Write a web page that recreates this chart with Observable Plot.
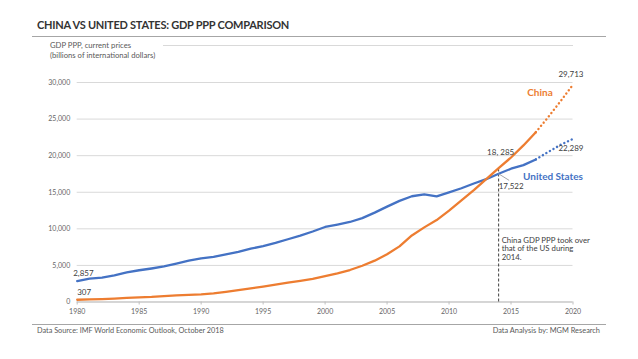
<!DOCTYPE html>
<html>
<head>
<meta charset="utf-8">
<script src="https://cdn.jsdelivr.net/npm/d3@7"></script>
<script src="https://cdn.jsdelivr.net/npm/@observablehq/plot@0.6"></script>
<style>
  body { margin: 0; background: #fff; font-family: Lato, "Open Sans", sans-serif; }
  #wrap { position: relative; width: 638px; height: 359px; overflow: hidden; }
  #wrap svg { position: absolute; left: 0; top: 0; }
  .abs { position: absolute; white-space: nowrap; }
  #title { left: 37px; top: 18px; font-size: 11px; font-weight: 700; color: #333; letter-spacing: -0.25px; }
  #rule1 { left: 32px; top: 35.5px; width: 574px; height: 0; border-top: 1px solid #a6a6a6; }
  #rule2 { left: 163px; top: 44.5px; width: 410px; height: 0; border-top: 1px solid #d9d9d9; }
  #ylab { left: 50px; top: 40px; font-size: 7.7px; line-height: 10px; color: #595959; }
  #rule3 { left: 32px; top: 323.5px; width: 574px; height: 0; border-top: 1px solid #a6a6a6; }
  #src { left: 37px; top: 326px; font-size: 7.3px; color: #595959; }
  #by { right: 38px; top: 326px; font-size: 7.4px; color: #595959; }
</style>
</head>
<body>
<div id="wrap">
  <div id="chart"></div>
  <div class="abs" id="title">CHINA VS UNITED STATES: GDP PPP COMPARISON</div>
  <div class="abs" id="rule1"></div>
  <div class="abs" id="rule2"></div>
  <div class="abs" id="ylab">GDP PPP, current prices<br>(billions of international dollars)</div>
  <div class="abs" id="rule3"></div>
  <div class="abs" id="src">Data Source: IMF World Economic Outlook, October 2018</div>
  <div class="abs" id="by">Data Analysis by: MGM Research</div>
</div>
<script>
const years = d3.range(1980, 2021);
const usValues = [2857, 3207, 3343, 3634, 4037, 4339, 4580, 4855, 5236, 5642,
  5963, 6158, 6520, 6859, 7287, 7639, 8073, 8578, 9063, 9631,
  10252, 10582, 10936, 11458, 12214, 13037, 13815, 14452, 14713, 14449,
  14992, 15543, 16197, 16785, 17522, 18219, 18707, 19485, 20513, 21482, 22289];
const chinaValues = [307, 350, 400, 460, 550, 640, 700, 800, 910, 975,
  1050, 1170, 1380, 1610, 1860, 2110, 2370, 2640, 2880, 3150,
  3520, 3920, 4370, 4950, 5650, 6520, 7600, 9100, 10200, 11200,
  12500, 13900, 15300, 16800, 18285, 19750, 21400, 23210, 25270, 27450, 29713];
const lastActualYear = 2017;
const crossoverYear = 2014;
const yTicks = [0, 5000, 10000, 15000, 20000, 25000, 30000];
const xTicks = [1980, 1985, 1990, 1995, 2000, 2005, 2010, 2015, 2020];
const annotation = "China GDP PPP took over\nthat of the US during\n2014.";

const blue = "#4472C4", orange = "#ED7D31";
const fmt = d3.format(",");

const us = years.map((year, i) => ({year, value: usValues[i]}));
const china = years.map((year, i) => ({year, value: chinaValues[i]}));
const usAt = y => us.find(d => d.year === y);
const chAt = y => china.find(d => d.year === y);

const chart = Plot.plot({
  width: 638,
  height: 359,
  marginLeft: 76.7,
  marginRight: 65.5,
  marginTop: 82,
  marginBottom: 57.5,
  style: {fontFamily: "Lato, 'Open Sans', sans-serif", background: "transparent", overflow: "visible"},
  x: {domain: [1980, 2020]},
  y: {domain: [0, 30000]},
  marks: [
    Plot.gridY(yTicks, {stroke: "#d9d9d9", strokeOpacity: 1, strokeWidth: 1}),
    Plot.axisY(yTicks, {tickSize: 0, tickPadding: 7, tickFormat: fmt, fontSize: 7, fill: "#666", label: null}),
    Plot.ruleY([0], {stroke: "#bfbfbf", strokeWidth: 1}),
    Plot.axisX(xTicks, {tickSize: 3, tickPadding: 4, tickFormat: d => String(d), fontSize: 7, fill: "#666", stroke: "#bfbfbf", label: null}),
    // dashed crossover rule
    Plot.ruleX([chAt(crossoverYear)], {x: "year", y1: 0, y2: "value", stroke: "#404040", strokeWidth: 1, strokeDasharray: "3,2"}),
    // actual lines
    Plot.line(us.filter(d => d.year <= lastActualYear), {x: "year", y: "value", stroke: blue, strokeWidth: 2.3}),
    Plot.line(china.filter(d => d.year <= lastActualYear), {x: "year", y: "value", stroke: orange, strokeWidth: 2.3}),
    // projections
    Plot.line(us.filter(d => d.year >= lastActualYear), {x: "year", y: "value", stroke: blue, strokeWidth: 2.4, strokeDasharray: "0.1,4", strokeLinecap: "round"}),
    Plot.line(china.filter(d => d.year >= lastActualYear), {x: "year", y: "value", stroke: orange, strokeWidth: 2.4, strokeDasharray: "0.1,4", strokeLinecap: "round"}),
    // leader line for 17,522
    Plot.link([usAt(crossoverYear)], {x1: "year", y1: "value", x2: d => d.year + 0.85, y2: d => d.value - 900, stroke: "#a6a6a6", strokeWidth: 1}),
    // value labels
    Plot.text([usAt(1980)], {x: "year", y: "value", text: d => fmt(d.value), textAnchor: "start", dx: -4, dy: -8, fontSize: 8, fill: "#404040"}),
    Plot.text([chAt(1980)], {x: "year", y: "value", text: d => fmt(d.value), textAnchor: "start", dx: 0, dy: -7, fontSize: 8, fill: "#404040"}),
    Plot.text([chAt(2020)], {x: "year", y: "value", text: d => fmt(d.value), dx: -2, dy: -10, fontSize: 8, fill: "#404040"}),
    Plot.text([usAt(2020)], {x: "year", y: "value", text: d => fmt(d.value), dx: -2, dy: 10, fontSize: 8, fill: "#404040"}),
    Plot.text([chAt(crossoverYear)], {x: "year", y: "value", text: d => fmt(d.value).replace(",", ", "), dx: 2, dy: -16, fontSize: 8, fill: "#404040"}),
    Plot.text([usAt(crossoverYear)], {x: "year", y: "value", text: d => fmt(d.value), textAnchor: "start", dx: 0, dy: 13, fontSize: 8, fill: "#404040"}),
    // series labels
    Plot.text([chAt(2020)], {x: "year", y: "value", text: () => "China", dx: -33, dy: 8, fontSize: 10, fontWeight: 700, fill: orange}),
    Plot.text([usAt(2020)], {x: "year", y: "value", text: () => "United States", dx: -20, dy: 37.6, fontSize: 10, fontWeight: 700, fill: blue}),
    // annotation
    Plot.text([{year: crossoverYear, value: 9000}], {x: "year", y: "value", text: () => annotation, textAnchor: "start", lineAnchor: "top", lineHeight: 1.15, dx: 3, fontSize: 7.8, fill: "#404040"})
  ]
});
document.getElementById("chart").appendChild(chart);
</script>
</body>
</html>
